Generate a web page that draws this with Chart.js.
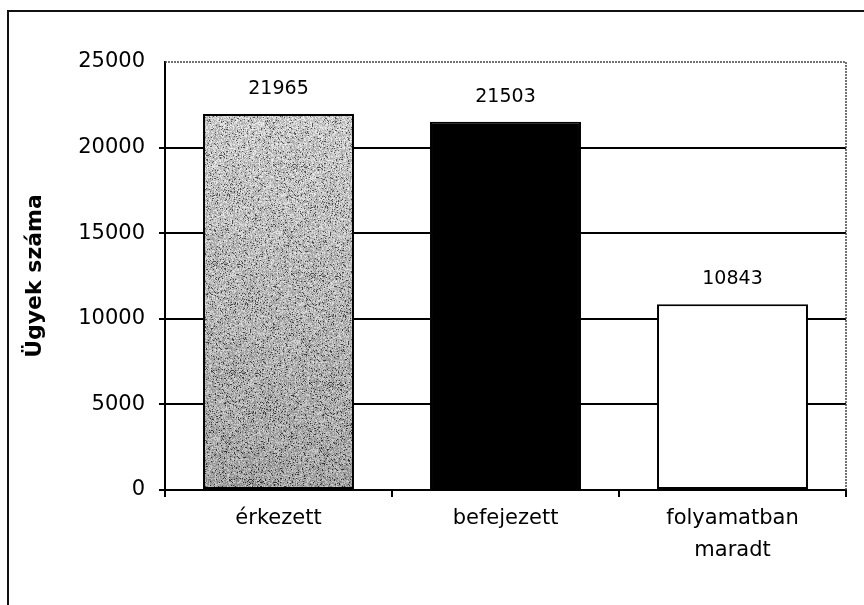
<!DOCTYPE html>
<html>
<head>
<meta charset="utf-8">
<script src="https://cdn.jsdelivr.net/npm/chart.js@4/dist/chart.umd.min.js"></script>
<style>
  html, body { margin: 0; padding: 0; background: #fff; overflow: hidden; }
  #frame { position: absolute; left: 7px; top: 10px; width: 900px; height: 700px;
           border-left: 2px solid #111; border-top: 2px solid #111; }
  #wrap { position: absolute; left: 0; top: 0; width: 864px; height: 605px; }
</style>
</head>
<body>
<div id="frame"></div>
<div id="wrap"><canvas id="c" width="864" height="605"></canvas></div>
<script>
// ---- adatok ----
const categories = ['érkezett', 'befejezett', ['folyamatban', 'maradt']];
const values = [21965, 21503, 10843];
const yTicks = [0, 5000, 10000, 15000, 20000, 25000];
const yTitle = 'Ügyek száma';

// szürke, szemcsés kitöltés az első oszlophoz (determinisztikus zaj)
function makeGrain() {
    const cv = document.createElement('canvas');
    cv.width = 864; cv.height = 605;
    const g = cv.getContext('2d');
    const img = g.createImageData(864, 605);
    let s = 12345;
    for (let y = 0; y < 605; y++) {
        const base = 200 - (y - 110) * 0.1;
        for (let x = 0; x < 864; x++) {
            s = (s * 1103515245 + 12345) & 0x7fffffff;
            const r = (s >> 8) % 100;
            let v = base + (r - 50) * 0.9;
            if (r < 8) v -= 70;       // dunkle Körner
            v = Math.max(30, Math.min(240, v));
            const k = (y * 864 + x) * 4;
            img.data[k] = img.data[k + 1] = img.data[k + 2] = v;
            img.data[k + 3] = 255;
        }
    }
    g.putImageData(img, 0, 0);
    return document.getElementById('c').getContext('2d').createPattern(cv, 'no-repeat');
}

const fontFamily = '"DejaVu Sans", Arial, sans-serif';

// oszlopfeliratok + pontozott keret (felső rácsvonal, jobb szél)
const extras = {
    id: 'extras',
    beforeDatasetsDraw(chart) {
        const ctx = chart.ctx, a = chart.chartArea;
        ctx.save();
        ctx.strokeStyle = '#444';
        ctx.lineWidth = 1.5;
        ctx.setLineDash([2, 1]);
        ctx.beginPath();
        ctx.moveTo(a.left, a.top);
        ctx.lineTo(a.right, a.top);
        ctx.lineTo(a.right, a.bottom);
        ctx.stroke();
        ctx.restore();
    },
    afterDatasetsDraw(chart) {
        const ctx = chart.ctx;
        const meta = chart.getDatasetMeta(0);
        ctx.save();
        ctx.font = '19px ' + fontFamily;
        ctx.fillStyle = '#000';
        ctx.textAlign = 'center';
        ctx.textBaseline = 'middle';
        meta.data.forEach((bar, i) => {
            ctx.fillText(String(values[i]), bar.x, bar.y - 25);
        });
        ctx.restore();
    }
};

new Chart(document.getElementById('c'), {
    type: 'bar',
    data: {
        labels: categories,
        datasets: [{
            data: values,
            backgroundColor: [makeGrain(), '#000', '#fff'],
            borderColor: '#000',
            borderWidth: 2,
            borderSkipped: false,
            categoryPercentage: 1,
            barPercentage: 0.665
        }]
    },
    options: {
        responsive: false,
        animation: false,
        layout: { padding: { top: 62, right: 18, left: 0, bottom: 0 } },
        plugins: { legend: { display: false }, tooltip: { enabled: false } },
        scales: {
            x: {
                grid: { offset: true, drawOnChartArea: false, tickLength: 7, color: '#000', lineWidth: 2 },
                border: { color: '#000', width: 2 },
                ticks: { color: '#000', font: { family: fontFamily, size: 21, lineHeight: 1.52 }, padding: 6, maxRotation: 0 },
                afterFit(scale) { scale.height = 115; }
            },
            y: {
                min: 0,
                max: 25000,
                afterBuildTicks(scale) { scale.ticks = yTicks.map(v => ({ value: v })); },
                grid: {
                    tickLength: 6,
                    lineWidth: 2,
                    color: (c) => (c.tick && c.tick.value === 25000 ? 'rgba(0,0,0,0)' : '#000')
                },
                border: { color: '#000', width: 2 },
                ticks: {
                    color: '#000',
                    font: { family: fontFamily, size: 21 },
                    padding: 14,
                    callback: (v) => String(v)
                },
                title: {
                    display: true,
                    text: yTitle,
                    color: '#000',
                    font: { family: fontFamily, size: 22, weight: 'bold' },
                    padding: { top: 22, bottom: 0 }
                },
                afterFit(scale) { scale.width = 165; }
            }
        }
    },
    plugins: [extras]
});
</script>
</body>
</html>
